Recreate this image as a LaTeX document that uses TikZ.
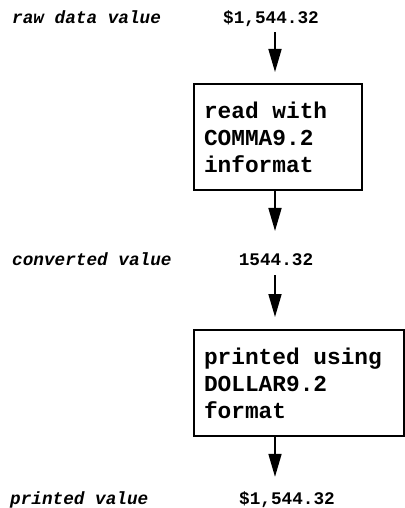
\documentclass[tikz,border=0pt]{standalone}
\usepackage{fontspec}
\usepackage{tikz}
\usetikzlibrary{arrows.meta,positioning,calc}
\newfontfamily\codefont{Liberation Mono}
\tikzstyle{caption}=[inner sep=0pt,anchor=base west,font=\codefont\bfseries\itshape\fontsize{17.7}{21}\selectfont]
\tikzstyle{value}=[inner sep=0pt,anchor=base,font=\codefont\bfseries\fontsize{17.7}{21}\selectfont]
% full-width spaces for the monospaced box text
\tikzstyle{stepbox}=[draw,line width=2pt,anchor=north west,minimum height=106pt,inner xsep=10pt,align=left,
  font=\codefont\bfseries\fontsize{22.8}{27}\selectfont,execute at begin node={\spaceskip=0.6em\relax}]
\tikzstyle{flow}=[line width=1.7pt,-{Triangle[length=23pt,width=13pt]}]

\begin{document}
\begin{tikzpicture}[x=1pt,y=-1pt]
  \useasboundingbox (0,0) rectangle (404,508);
  \coordinate (axis) at (275,0);

  \node[caption] at (12,24) (rawlbl) {raw data value};
  \node[value] at (271,24) (rawval) {\$1,544.32};
  \node[stepbox,text width=148pt] at (193,83) (read) {read with\\COMMA9.2\\informat};

  \node[caption] at (12,265) (convlbl) {converted value};
  \node[value] at (276,265) (convval) {1544.32};
  \node[stepbox,text width=190pt] at (193,329) (print) {printed using\\DOLLAR9.2\\format};

  \node[caption] at (10,504) (outlbl) {printed value};
  \node[value] at (287,504) (outval) {\$1,544.32};

  \draw[flow,shorten <=5pt,shorten >=11pt] (rawval.south -| axis) -- (read.north -| axis);
  \draw[flow,shorten >=22pt] (read.south -| axis) -- (convval.north -| axis);
  \draw[flow,shorten <=10pt,shorten >=12pt] (convval.south -| axis) -- (print.north -| axis);
  \draw[flow,shorten >=14pt] (print.south -| axis) -- (outval.north -| axis);
\end{tikzpicture}
\end{document}
